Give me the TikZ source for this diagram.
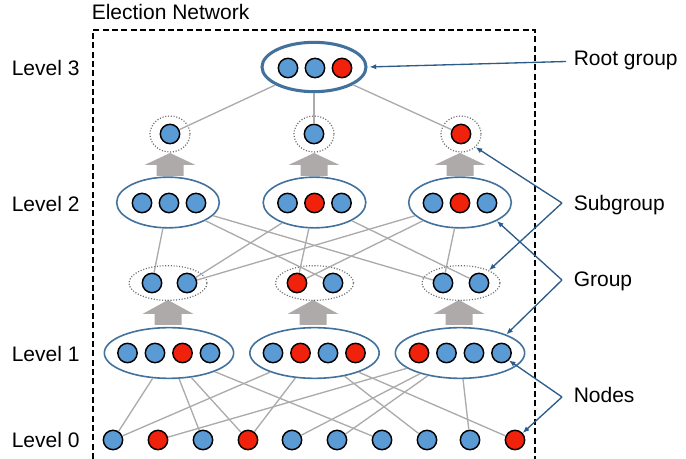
\documentclass[tikz,border=0pt]{standalone}
\usepackage{fontspec}
\setmainfont{Liberation Sans}
\usetikzlibrary{shapes.geometric,arrows.meta}
\definecolor{nodeblue}{HTML}{5B9BD5}
\definecolor{nodered}{HTML}{F0220C}
\definecolor{ringblue}{HTML}{41719C}
\definecolor{linkgray}{HTML}{ABABAB}
\definecolor{uparrowgray}{HTML}{AEAAA9}
\definecolor{pointerblue}{HTML}{2B5C8A}

\begin{document}
\begin{tikzpicture}[x=0.75pt,y=0.75pt,yscale=-1,xscale=1,
  font=\fontsize{15.75}{18}\selectfont,
  bnode/.style={circle,draw=black,line width=1.1pt,fill=nodeblue,minimum size=14.5pt,inner sep=0pt},
  rnode/.style={bnode,fill=nodered},
  grpone/.style={ellipse,draw=ringblue,line width=1.2pt,minimum width=97pt,minimum height=38pt,inner sep=0pt},
  grptwo/.style={ellipse,draw=ringblue,line width=1.2pt,minimum width=77pt,minimum height=38pt,inner sep=0pt},
  rootgrp/.style={ellipse,draw=ringblue,line width=2.3pt,minimum width=78pt,minimum height=37pt,inner sep=0pt},
  subgrp/.style={ellipse,draw=gray!85!black,line width=0.9pt,dash pattern=on 0.8pt off 1.3pt,inner sep=0pt},
  link/.style={draw=linkgray,line width=1pt},
  uparrow/.style={fill=uparrowgray},
  pointer/.style={draw=pointerblue,line width=1pt,-{Latex[length=5pt,width=4pt]}},
  label/.style={anchor=base west,inner sep=0pt}]
\useasboundingbox (0,0) rectangle (686,459);

%Dashed frame
\draw[line width=0.8pt,dash pattern=on 4.5pt off 2.5pt] (93,459) -- (93,30) -- (535,30) -- (535,459);

% Text Node
\node[label] (title) at (91.5,20) {Election Network};
\node[label] (lev3) at (11.5,76) {Level 3};
\node[label] (lev2) at (11.5,212) {Level 2};
\node[label] (lev1) at (11.5,361.5) {Level 1};
\node[label] (lev0) at (11.5,448) {Level 0};

%Shape: Up Arrow
\fill[uparrow] (156.5,176) -- (156.5,165) -- (144.5,165) -- (170,153) -- (195.5,165) -- (183.5,165) -- (183.5,176) -- cycle;
\fill[uparrow] (300.5,176) -- (300.5,165) -- (288.5,165) -- (314,153) -- (339.5,165) -- (327.5,165) -- (327.5,176) -- cycle;
\fill[uparrow] (446.5,176) -- (446.5,165) -- (434.5,165) -- (460,153) -- (485.5,165) -- (473.5,165) -- (473.5,176) -- cycle;
\fill[uparrow] (154.5,325) -- (154.5,314) -- (142.5,314) -- (168,300) -- (193.5,314) -- (181.5,314) -- (181.5,325) -- cycle;
\fill[uparrow] (299.5,325) -- (299.5,314) -- (287.5,314) -- (313,300) -- (338.5,314) -- (326.5,314) -- (326.5,325) -- cycle;
\fill[uparrow] (445.5,325) -- (445.5,314) -- (433.5,314) -- (459,300) -- (484.5,314) -- (472.5,314) -- (472.5,325) -- cycle;

%Root group
\node[rootgrp] (root) at (314,67) {};
\node[bnode] (r1) at (288,68) {};
\node[bnode] (r2) at (315,68) {};
\node[rnode] (r3) at (342,68) {};

%Level 3 subgroups
\node[subgrp,minimum width=30pt,minimum height=27pt] (s2a) at (170,134) {};
\node[subgrp,minimum width=30pt,minimum height=27pt] (s2b) at (314,134) {};
\node[subgrp,minimum width=30pt,minimum height=27pt] (s2c) at (461,134) {};
\node[bnode] (s2a1) at (170,134) {};
\node[bnode] (s2b1) at (314,134) {};
\node[rnode] (s2c1) at (461,134) {};

%Level 2 groups
\node[grptwo] (g2a) at (168,202.5) {};
\node[bnode] (g2a1) at (142,203) {};
\node[bnode] (g2a2) at (169,203) {};
\node[bnode] (g2a3) at (196,203) {};
\node[grptwo] (g2b) at (314.5,202.5) {};
\node[bnode] (g2b1) at (287.5,203) {};
\node[rnode] (g2b2) at (314.5,203) {};
\node[bnode] (g2b3) at (341.5,203) {};
\node[grptwo] (g2c) at (460,202.5) {};
\node[bnode] (g2c1) at (433,203) {};
\node[rnode] (g2c2) at (460,203) {};
\node[bnode] (g2c3) at (487,203) {};

%Level 2 subgroups
\node[subgrp,minimum width=58.5pt,minimum height=26pt] (s1a) at (168,283) {};
\node[subgrp,minimum width=58.5pt,minimum height=26pt] (s1b) at (314.5,283) {};
\node[subgrp,minimum width=58.5pt,minimum height=26pt] (s1c) at (461,283) {};
\node[bnode] (s1a1) at (152,283) {};
\node[bnode] (s1a2) at (187,283) {};
\node[rnode] (s1b1) at (297,283) {};
\node[bnode] (s1b2) at (333,283) {};
\node[bnode] (s1c1) at (443,283) {};
\node[bnode] (s1c2) at (479,283) {};

%Level 1 groups
\node[grpone] (g1a) at (169,353) {};
\node[bnode] (g1a1) at (127.5,353) {};
\node[bnode] (g1a2) at (155,353) {};
\node[rnode] (g1a3) at (182.5,353) {};
\node[bnode] (g1a4) at (210,353) {};
\node[grpone] (g1b) at (314.5,353) {};
\node[bnode] (g1b1) at (273,353) {};
\node[rnode] (g1b2) at (300.5,353) {};
\node[bnode] (g1b3) at (328,353) {};
\node[rnode] (g1b4) at (355.5,353) {};
\node[grpone] (g1c) at (460,353) {};
\node[rnode] (g1c1) at (419,353) {};
\node[bnode] (g1c2) at (446.5,353) {};
\node[bnode] (g1c3) at (474,353) {};
\node[bnode] (g1c4) at (501.5,353) {};

%Level 0 nodes
\node[bnode] (n1) at (113,440) {};
\node[rnode] (n2) at (158,440) {};
\node[bnode] (n3) at (203,440) {};
\node[rnode] (n4) at (248,440) {};
\node[bnode] (n5) at (292,440) {};
\node[bnode] (n6) at (337,440) {};
\node[bnode] (n7) at (382,440) {};
\node[bnode] (n8) at (427,440) {};
\node[bnode] (n9) at (470,440) {};
\node[rnode] (n10) at (515,440) {};

%Straight Lines
\draw[link] (root) -- (s2a1);
\draw[link] (root) -- (s2b1);
\draw[link] (root) -- (s2c1);

\draw[link] (g2a) -- (s1a1);
\draw[link] (g2a) -- (s1b2);
\draw[link] (g2a) -- (s1c1);
\draw[link] (g2b) -- (s1a2);
\draw[link] (g2b) -- (s1b1);
\draw[link] (g2b) -- (s1c2);
\draw[link] (g2c) -- (s1a2);
\draw[link] (g2c) -- (s1b1);
\draw[link] (g2c) -- (s1c1);

\draw[link] (g1a) -- (n1);
\draw[link] (g1a) -- (n3);
\draw[link] (g1a) -- (n4);
\draw[link] (g1a) -- (n7);
\draw[link] (g1b) -- (n1);
\draw[link] (g1b) -- (n4);
\draw[link] (g1b) -- (n8);
\draw[link] (g1b) -- (n10);
\draw[link] (g1c) -- (n2);
\draw[link] (g1c) -- (n5);
\draw[link] (g1c) -- (n6);
\draw[link] (g1c) -- (n9);

%Pointers
\coordinate (proot) at (566,61.5);
\coordinate (psub) at (562,203);
\coordinate (pgrp) at (562,280);
\coordinate (pnod) at (562,397);
\draw[pointer,shorten >=1.5pt] (proot) -- (root.east);
\draw[pointer] (psub) -- (s2c.south east);
\draw[pointer] (psub) -- (s1c.north east);
\draw[pointer] (pgrp) -- (g2c.south east);
\draw[pointer] (pgrp) -- (g1c.north east);
\draw[pointer] (pnod) -- (g1c4.south east);
\draw[pointer] (pnod) -- (n10);

% Text Node
\node[label] (troot) at (573.5,66) {Root group};
\node[label] (tsub) at (573.5,211) {Subgroup};
\node[label] (tgrp) at (573.5,286.5) {Group};
\node[label] (tnod) at (573.5,402.5) {Nodes};

\end{tikzpicture}
\end{document}
